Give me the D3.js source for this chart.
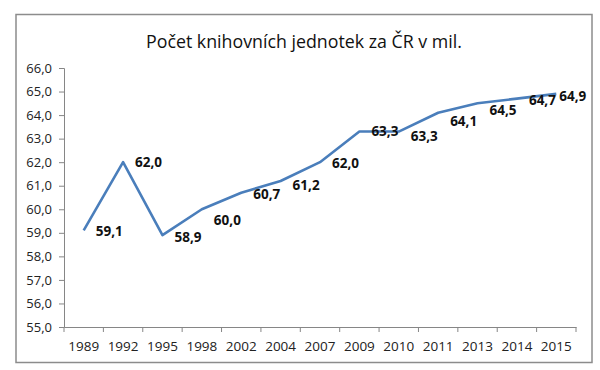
<!DOCTYPE html>
<html><head><meta charset="utf-8">
<script src="https://cdn.jsdelivr.net/npm/d3@7"></script>
<style>body{margin:0;background:#fff}svg{display:block}</style>
</head><body>
<script>
const title = "Počet knihovních jednotek za ČR v mil.";
const years = ["1989","1992","1995","1998","2002","2004","2007","2009","2010","2011","2013","2014","2015"];
const values = [59.1,62.0,58.9,60.0,60.7,61.2,62.0,63.3,63.3,64.1,64.5,64.7,64.9];
const yTicks = [55,56,57,58,59,60,61,62,63,64,65,66];
// label nudges (layout only)
const labelDy = [1,0,2,11,1,4,1,0,5,9,7,2,2];

const W=600,H=370;
const svg=d3.select("body").append("svg").attr("width",W).attr("height",H);
svg.append("rect").attr("x",16).attr("y",14.5).attr("width",576).attr("height",348)
  .attr("fill","#fff").attr("stroke","#8c8c8c").attr("stroke-width",1.5);
svg.append("text").attr("x",304).attr("y",48).attr("text-anchor","middle")
  .attr("font-family","'Open Sans',sans-serif").attr("font-size",17.8).attr("fill","#111").text(title);

const m={l:64,r:576,t:68,b:327};
const x=d3.scaleBand().domain(years).range([m.l,m.r]);
const y=d3.scaleLinear().domain([55,66]).range([m.b,m.t]);
const fmt=d=>d3.format(".1f")(d).replace(".",",");

const ya=svg.append("g").attr("transform",`translate(${m.l},0)`)
  .call(d3.axisLeft(y).tickValues(yTicks).tickFormat(fmt).tickSize(5).tickPadding(7));
const xa=svg.append("g").attr("transform",`translate(0,${m.b})`)
  .call(d3.axisBottom(x).tickSize(0).tickPadding(14));
// category boundary ticks
xa.selectAll(".bt").data(d3.range(years.length+1)).enter().append("line")
  .attr("x1",i=>m.l+i*x.step()).attr("x2",i=>m.l+i*x.step()).attr("y1",0).attr("y2",5)
  .attr("stroke","#868686");
[ya,xa].forEach(a=>{
  a.select(".domain").attr("stroke","#868686");
  a.selectAll(".tick line").attr("stroke","#868686");
  a.selectAll("text").attr("font-family","'Open Sans',sans-serif").attr("fill","#222");
});
ya.selectAll("text").attr("font-size",13);
xa.selectAll("text").attr("font-size",13.5);

const line=d3.line().x((d,i)=>x(years[i])+x.bandwidth()/2).y(d=>y(d));
svg.append("path").datum(values).attr("d",line).attr("fill","none")
  .attr("stroke","#4a7ebb").attr("stroke-width",2.6).attr("stroke-linejoin","round");

svg.selectAll(".lbl").data(values).enter().append("text")
  .attr("x",(d,i)=>x(years[i])+x.bandwidth()/2+(i===12?3:12))
  .attr("y",(d,i)=>y(d)+labelDy[i]).attr("dy","0.35em")
  .attr("font-family","'Open Sans',sans-serif").attr("font-weight","bold").attr("font-size",13.5)
  .attr("fill","#111").text(fmt);
</script>
</body></html>
